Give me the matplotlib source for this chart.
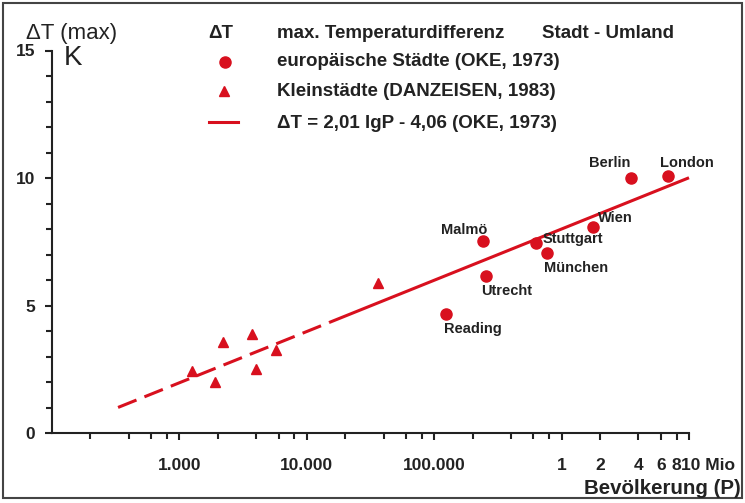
"""Urban heat island: max. temperature difference city - surroundings vs population."""

import matplotlib
matplotlib.use("Agg")
import matplotlib.pyplot as plt
from matplotlib.lines import Line2D
from matplotlib.patches import Rectangle
import numpy as np

plt.rcParams["font.family"] = ["Liberation Sans", "DejaVu Sans"]

RED = "#d8101e"
INK = "#222222"
W, H = 745, 503

# European cities (OKE, 1973)
city_names = ["Reading", "Malmö", "Utrecht", "Stuttgart", "München", "Wien", "Berlin", "London"]
city_pop = [124000, 243000, 256000, 635000, 762000, 1760000, 3490000, 6800000]
city_dt = [4.67, 7.54, 6.17, 7.44, 7.07, 8.09, 9.99, 10.09]
# label offsets in points (dx, dy)
city_label_off = [(19, -11), (-14, 8), (15, -11), (26, 3), (21, -11), (16, 6), (-15, 11), (14, 9)]

# small towns (DANZEISEN, 1983)
town_pop = [1250, 1900, 2190, 3690, 3960, 5770, 36200]
town_dt = [2.43, 2.0, 3.56, 3.88, 2.51, 3.25, 5.88]

# regression dT = 2.01 lgP - 4.06
slope, intercept = 2.01, -4.06
dash_range = (330, 15000)
solid_range = (15000, 1.0e7)

xtick_pos = [1e3, 1e4, 1e5, 1e6, 2e6, 4e6, 6e6, 8e6, 1e7]
xtick_lab = ["1.000", "10.000", "100.000", "1", "2", "4", "6", "8", ""]
xminor_pos = [m * d for d in (1e2, 1e3, 1e4, 1e5) for m in (2, 4, 6, 8)]
ytick_pos = [0, 5, 10, 15]


def fx(px):
    return px / W


def fy(py):
    return 1 - py / H


fig = plt.figure(figsize=(W / 100, H / 100), dpi=100)
ax = fig.add_axes([fx(52), fy(433), fx(689) - fx(52), fy(50.5) - fy(433)])

ax.set_xscale("log")
ax.set_xlim(100, 1e7)
ax.set_ylim(0, 15)

# regression line: dashed extrapolation, solid where OKE had data
for (lo, hi), style in ((dash_range, "dash"), (solid_range, "solid")):
    p = np.logspace(np.log10(lo), np.log10(hi), 50)
    ln, = ax.plot(p, slope * np.log10(p) + intercept, color=RED, lw=2.2,
                  solid_capstyle="butt", clip_on=False)
    if style == "dash":
        ln.set_dashes((6.5, 2.8))
        ln.set_dash_capstyle("butt")

ax.plot(city_pop, city_dt, "o", color=RED, ms=8, mec=RED, clip_on=False)
ax.plot(town_pop, town_dt, "^", color=RED, ms=7.5, mec=RED, clip_on=False)

for name, p, t, off in zip(city_names, city_pop, city_dt, city_label_off):
    ax.annotate(name, (p, t), xytext=off, textcoords="offset points",
                ha="center", va="center", fontsize=10.5, fontweight="bold",
                color=INK)

for s in ("top", "right"):
    ax.spines[s].set_visible(False)
for s in ("left", "bottom"):
    ax.spines[s].set_linewidth(1.5)
    ax.spines[s].set_color(INK)

ax.set_xticks(xtick_pos, labels=xtick_lab)
ax.set_xticks(xminor_pos, minor=True)
ax.xaxis.set_minor_formatter(plt.NullFormatter())
ax.set_yticks(ytick_pos)
ax.set_yticks(np.arange(0, 16, 1), minor=True)
ax.tick_params(axis="both", which="major", length=5, width=1.5, color=INK,
               labelsize=12.5, pad=7)
ax.tick_params(axis="both", which="minor", length=4, width=1.5, color=INK)
ax.tick_params(axis="x", which="major", pad=13)
for lab in ax.get_xticklabels() + ax.get_yticklabels():
    lab.set_fontweight("bold")
    lab.set_color(INK)

# last tick label runs into the unit, as in the original
ax.annotate("10 Mio", (1e7, 0), xytext=(-5.5, -23.5), textcoords="offset points",
            ha="left", va="center", fontsize=12.5, fontweight="bold", color=INK,
            annotation_clip=False)
fig.text(fx(741), fy(488), "Bevölkerung (P)", fontsize=14.8, fontweight="bold",
         ha="right", va="center", color=INK)

# y axis title and unit
fig.text(fx(26), fy(33), "ΔT (max)", fontsize=16, ha="left", va="center", color=INK)
fig.text(fx(64), fy(58), "K", fontsize=20, ha="left", va="center", color=INK)

# legend block
tx = fx(277)
fs = 13.5
fig.text(fx(221), fy(33), "ΔT", fontsize=fs, fontweight="bold", ha="center",
         va="center", color=INK)
fig.text(tx, fy(33), "max. Temperaturdifferenz", fontsize=fs, fontweight="bold",
         va="center", color=INK)
fig.text(fx(542), fy(33), "Stadt - Umland", fontsize=fs, fontweight="bold",
         va="center", color=INK)
fig.add_artist(Line2D([fx(225)], [fy(62)], marker="o", color=RED, ms=8,
                      transform=fig.transFigure))
fig.text(tx, fy(62), "europäische Städte (OKE, 1973)", fontsize=fs,
         fontweight="bold", va="center", color=INK)
fig.add_artist(Line2D([fx(224)], [fy(91)], marker="^", color=RED, ms=7.5,
                      transform=fig.transFigure))
fig.text(tx, fy(92), "Kleinstädte (DANZEISEN, 1983)", fontsize=fs,
         fontweight="bold", va="center", color=INK)
fig.add_artist(Line2D([fx(209), fx(238)], [fy(122), fy(122)], color=RED, lw=2.2,
                      transform=fig.transFigure))
fig.text(tx, fy(123), "ΔT = 2,01 lgP - 4,06 (OKE, 1973)", fontsize=fs,
         fontweight="bold", va="center", color=INK)

# outer frame
fig.add_artist(Rectangle((fx(3), fy(498)), fx(739), fy(3) - fy(498), fill=False,
                         ec="#444444", lw=1.5, transform=fig.transFigure))

fig.savefig("out.png", dpi=100)
